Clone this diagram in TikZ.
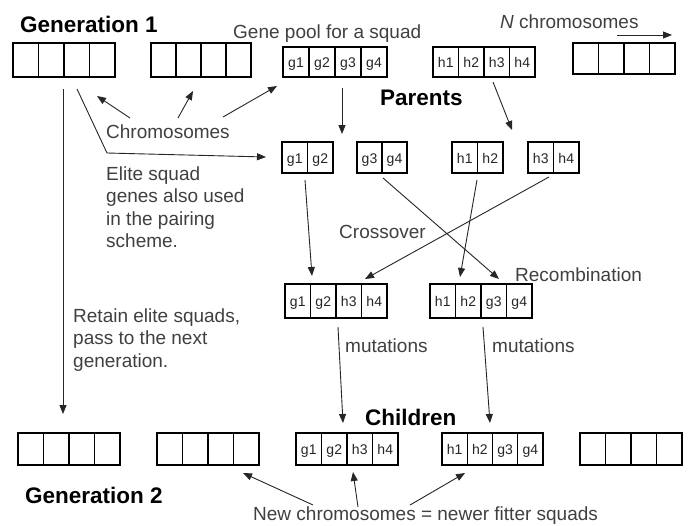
\documentclass[tikz,border=0pt]{standalone}
\usepackage{fontspec}
\setmainfont{Liberation Sans}
\usetikzlibrary{arrows.meta}
\tikzset{
  cbox/.style={draw=black, line width=1.8pt, inner sep=0pt, outer sep=0pt},
  divider/.style={line width=1.3pt},
  cell/.style={inner sep=0pt, anchor=base, font=\fontsize{14}{16}\selectfont, text=black!85},
  lbl/.style={inner sep=0pt, anchor=base west, font=\fontsize{19}{22.6}\selectfont, text=black!75},
  hdr/.style={inner sep=0pt, anchor=base west, font=\fontsize{22.5}{26}\selectfont\bfseries, text=black},
  arr/.style={-{Triangle[length=9pt,width=7pt]}, line width=0.9pt, black!85},
}
% name, x1, y1, x2, y2, number of cells
\newcommand\chrombox[6]{%
  \pgfmathsetmacro\cbw{#4-#2}\pgfmathsetmacro\cbh{#5-#3}%
  \node[cbox, minimum width=\cbw pt, minimum height=\cbh pt] (#1) at ({(#2+#4)/2},{(#3+#5)/2}) {};
  \pgfmathtruncatemacro\cbn{#6-1}%
  \foreach \k in {1,...,\cbn}{\draw[divider] ({#2+\k*(#4-#2)/#6},#3) -- ({#2+\k*(#4-#2)/#6},#5);}%
}
% name, x1, baseline y, x2, number of cells, labels
\newcommand\chromlabels[6]{%
  \foreach \l [count=\i] in {#6}{\node[cell] (#1-\i) at ({#2+(\i-0.5)*(#4-#2)/#5},#3) {\l};}%
}
\begin{document}
\begin{tikzpicture}[x=1pt,y=-1pt]
\useasboundingbox[fill=white] (0,0) rectangle (690,525);

% ---- Generation 1 ----
\chrombox{A1}{13}{43}{115}{77}{4}
\chrombox{B1}{151}{43}{251}{77}{4}
\chrombox{C1}{283}{47}{387}{77}{4}
\chromlabels{C1}{283}{67}{387}{4}{g1,g2,g3,g4}
\chrombox{D1}{433}{47}{535}{77}{4}
\chromlabels{D1}{433}{67}{535}{4}{h1,h2,h3,h4}
\chrombox{E1}{573}{43}{675}{74}{4}

% ---- Parents (pairs) ----
\chrombox{P1}{282}{142}{333}{173}{2}
\chromlabels{P1}{282}{163}{333}{2}{g1,g2}
\chrombox{P2}{357}{142}{407}{173}{2}
\chromlabels{P2}{357}{163}{407}{2}{g3,g4}
\chrombox{P3}{452}{142}{503}{173}{2}
\chromlabels{P3}{452}{163}{503}{2}{h1,h2}
\chrombox{P4}{528}{142}{579}{173}{2}
\chromlabels{P4}{528}{163}{579}{2}{h3,h4}

% ---- Crossed ----
\chrombox{X1}{285}{284}{387}{318}{4}
\chromlabels{X1}{285}{306.5}{387}{4}{g1,g2,h3,h4}
\chrombox{X2}{430}{284}{532}{318}{4}
\chromlabels{X2}{430}{306.5}{532}{4}{h1,h2,g3,g4}

% ---- Generation 2 ----
\chrombox{A2}{18}{433}{120}{465}{4}
\chrombox{B2}{157}{433}{259}{465}{4}
\chrombox{C2}{296}{433}{398}{465}{4}
\chromlabels{C2}{296}{454.5}{398}{4}{g1,g2,h3,h4}
\chrombox{D2}{442}{433}{543}{465}{4}
\chromlabels{D2}{442}{454.5}{543}{4}{h1,h2,g3,g4}
\chrombox{E2}{580}{433}{682}{465}{4}

% ---- Texts ----
\node[hdr] (gen1) at (20,32) {Generation 1};
\node[lbl] (pool) at (233,38) {Gene pool for a squad};
\node[lbl] (nchrom) at (500,28) {\textit{N} chromosomes};
\node[hdr] (parents) at (380,105) {Parents};
\node[lbl] (chromtxt) at (106,138) {Chromosomes};
\node[lbl] (elite1) at (106,180) {Elite squad};
\node[lbl] (elite2) at (106,202.5) {genes also used};
\node[lbl] (elite3) at (106,225) {in the pairing};
\node[lbl] (elite4) at (106,247.5) {scheme.};
\node[lbl] (cross) at (339,238) {Crossover};
\node[lbl] (recomb) at (515,281) {Recombination};
\node[lbl] (retain1) at (73,322) {Retain elite squads,};
\node[lbl] (retain2) at (73,344.5) {pass to the next};
\node[lbl] (retain3) at (73,367) {generation.};
\node[lbl] (mut1) at (345,352) {mutations};
\node[lbl] (mut2) at (492,352) {mutations};
\node[hdr] (children) at (365,425) {Children};
\node[hdr] (gen2) at (25,503) {Generation 2};
\node[lbl] (newchrom) at (253,520) {New chromosomes = newer fitter squads};

% ---- Arrow end points ----
\coordinate (nS) at (617,35);   \coordinate (nE) at (672,35);
\coordinate (cA) at (130,118);  \coordinate (cAt) at (97,96);
\coordinate (cB) at (178,118);  \coordinate (cBt) at (193,91);
\coordinate (cC) at (223,117);  \coordinate (cCt) at (277,86);
\coordinate (eS) at (77,89);    \coordinate (eM) at (107,153);  \coordinate (eT) at (266,157);
\coordinate (rS) at (63,89);    \coordinate (rT) at (63,414);
\coordinate (c1S) at (342,88);  \coordinate (c1T) at (342,134);
\coordinate (d1S) at (493,82);  \coordinate (d1T) at (512,130);
\coordinate (p1S) at (305,180); \coordinate (p1T) at (312,276);
\coordinate (p2S) at (383,178); \coordinate (p2T) at (499,279);
\coordinate (p3S) at (477,180); \coordinate (p3T) at (460,277);
\coordinate (p4S) at (549,177); \coordinate (p4T) at (365,279);
\coordinate (m1S) at (338,327); \coordinate (m1T) at (343,423);
\coordinate (m2S) at (483,327); \coordinate (m2T) at (490,423);
\coordinate (nB) at (313,505);  \coordinate (nBt) at (243,473);
\coordinate (nC) at (358,507);  \coordinate (nCt) at (353,472);
\coordinate (nD) at (410,505);  \coordinate (nDt) at (465,473);

% ---- Arrows ----
\draw[arr] (nS) -- (nE);
\draw[arr] (cA) -- (cAt);
\draw[arr] (cB) -- (cBt);
\draw[arr] (cC) -- (cCt);
\draw[arr] (eS) -- (eM) -- (eT);
\draw[arr] (rS) -- (rT);
\draw[arr] (c1S) -- (c1T);
\draw[arr] (d1S) -- (d1T);
\draw[arr] (p1S) -- (p1T);
\draw[arr] (p2S) -- (p2T);
\draw[arr] (p3S) -- (p3T);
\draw[arr] (p4S) -- (p4T);
\draw[arr] (m1S) -- (m1T);
\draw[arr] (m2S) -- (m2T);
\draw[arr] (nB) -- (nBt);
\draw[arr] (nC) -- (nCt);
\draw[arr] (nD) -- (nDt);
\end{tikzpicture}
\end{document}
